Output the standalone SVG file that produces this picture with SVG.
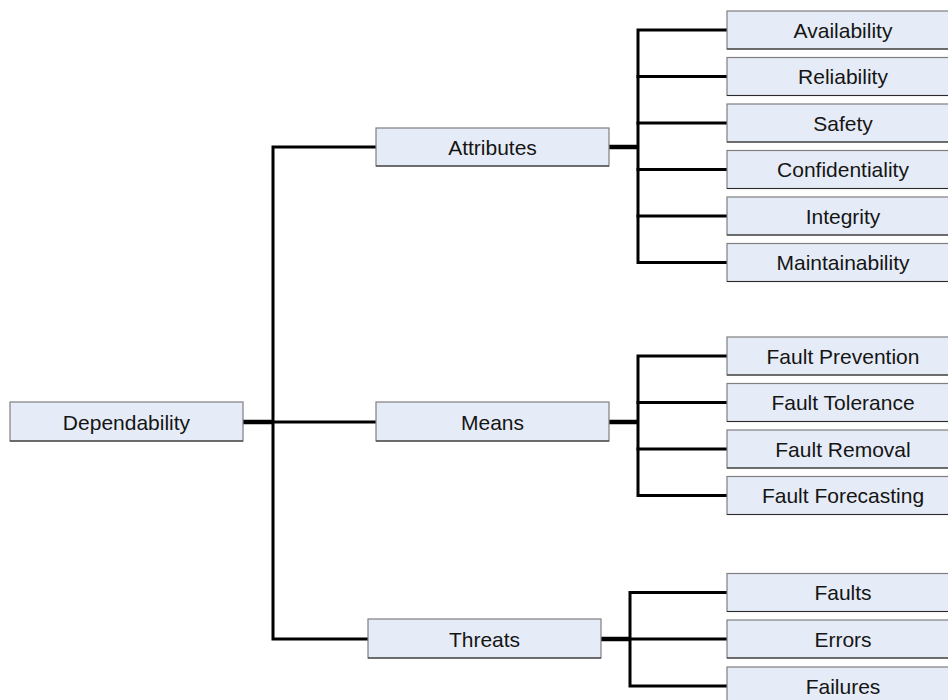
<svg xmlns="http://www.w3.org/2000/svg" width="948" height="700" viewBox="0 0 948 700">
  <style>
    .box { fill: #e6ecf7; stroke: #7f7f7f; stroke-width: 1.2; }
    .shade { stroke: #2a2a2a; stroke-width: 1.2; fill: none; }
    .lbl { font-family: "Liberation Sans", Arial, sans-serif; font-size: 21px; fill: #151515; text-anchor: middle; }
    .wire { stroke: #000; stroke-width: 3; fill: none; stroke-linecap: square; }
    .stub { stroke: #000; stroke-width: 4.5; fill: none; }
  </style>
  <rect width="948" height="700" fill="#fff"/>

  <!-- connectors -->
  <g id="connectors">
    <!-- root trunk -->
    <line class="stub" x1="243" y1="422" x2="273" y2="422"/>
    <polyline class="wire" points="376,147 273,147 273,639 368,639"/>
    <line class="wire" x1="273" y1="422" x2="376" y2="422"/>
    <!-- attributes bus -->
    <line class="stub" x1="609" y1="147" x2="638" y2="147"/>
    <polyline class="wire" points="727,30 638,30 638,262.5 727,262.5"/>
    <line class="wire" x1="638" y1="76.5" x2="727" y2="76.5"/>
    <line class="wire" x1="638" y1="123" x2="727" y2="123"/>
    <line class="wire" x1="638" y1="169.5" x2="727" y2="169.5"/>
    <line class="wire" x1="638" y1="216" x2="727" y2="216"/>
    <!-- means bus -->
    <line class="stub" x1="609" y1="422" x2="638" y2="422"/>
    <polyline class="wire" points="727,356 638,356 638,495.5 727,495.5"/>
    <line class="wire" x1="638" y1="402.5" x2="727" y2="402.5"/>
    <line class="wire" x1="638" y1="449" x2="727" y2="449"/>
    <!-- threats bus -->
    <line class="stub" x1="601" y1="639" x2="630" y2="639"/>
    <polyline class="wire" points="727,592.5 630,592.5 630,686 727,686"/>
    <line class="wire" x1="630" y1="639" x2="727" y2="639"/>
  </g>

  <!-- root -->
  <g id="dependability">
    <rect class="box" x="10" y="402" width="233" height="39"/>
    <line class="shade" x1="10" y1="441" x2="243" y2="441"/>
    <text class="lbl" x="126.5" y="429.5">Dependability</text>
  </g>

  <!-- second level -->
  <g id="attributes">
    <rect class="box" x="376" y="128" width="233" height="38"/>
    <line class="shade" x1="376" y1="166" x2="609" y2="166"/>
    <text class="lbl" x="492.5" y="154.5">Attributes</text>
  </g>
  <g id="means">
    <rect class="box" x="376" y="402" width="233" height="39"/>
    <line class="shade" x1="376" y1="441" x2="609" y2="441"/>
    <text class="lbl" x="492.5" y="429.5">Means</text>
  </g>
  <g id="threats">
    <rect class="box" x="368" y="619" width="233" height="39"/>
    <line class="shade" x1="368" y1="658" x2="601" y2="658"/>
    <text class="lbl" x="484.5" y="646.5">Threats</text>
  </g>

  <!-- attributes leaves -->
  <g id="availability">
    <rect class="box" x="727" y="11" width="233" height="38"/>
    <line class="shade" x1="727" y1="49" x2="948" y2="49"/>
    <text class="lbl" x="843" y="37.5">Availability</text>
  </g>
  <g id="reliability">
    <rect class="box" x="727" y="57.5" width="233" height="38"/>
    <line class="shade" x1="727" y1="95.5" x2="948" y2="95.5"/>
    <text class="lbl" x="843" y="84">Reliability</text>
  </g>
  <g id="safety">
    <rect class="box" x="727" y="104" width="233" height="38"/>
    <line class="shade" x1="727" y1="142" x2="948" y2="142"/>
    <text class="lbl" x="843" y="130.5">Safety</text>
  </g>
  <g id="confidentiality">
    <rect class="box" x="727" y="150.5" width="233" height="38"/>
    <line class="shade" x1="727" y1="188.5" x2="948" y2="188.5"/>
    <text class="lbl" x="843" y="177">Confidentiality</text>
  </g>
  <g id="integrity">
    <rect class="box" x="727" y="197" width="233" height="38"/>
    <line class="shade" x1="727" y1="235" x2="948" y2="235"/>
    <text class="lbl" x="843" y="223.5">Integrity</text>
  </g>
  <g id="maintainability">
    <rect class="box" x="727" y="243.5" width="233" height="38"/>
    <line class="shade" x1="727" y1="281.5" x2="948" y2="281.5"/>
    <text class="lbl" x="843" y="270">Maintainability</text>
  </g>

  <!-- means leaves -->
  <g id="fault-prevention">
    <rect class="box" x="727" y="337" width="233" height="38"/>
    <line class="shade" x1="727" y1="375" x2="948" y2="375"/>
    <text class="lbl" x="843" y="363.5">Fault Prevention</text>
  </g>
  <g id="fault-tolerance">
    <rect class="box" x="727" y="383.5" width="233" height="38"/>
    <line class="shade" x1="727" y1="421.5" x2="948" y2="421.5"/>
    <text class="lbl" x="843" y="410">Fault Tolerance</text>
  </g>
  <g id="fault-removal">
    <rect class="box" x="727" y="430" width="233" height="38"/>
    <line class="shade" x1="727" y1="468" x2="948" y2="468"/>
    <text class="lbl" x="843" y="456.5">Fault Removal</text>
  </g>
  <g id="fault-forecasting">
    <rect class="box" x="727" y="476.5" width="233" height="38"/>
    <line class="shade" x1="727" y1="514.5" x2="948" y2="514.5"/>
    <text class="lbl" x="843" y="503">Fault Forecasting</text>
  </g>

  <!-- threats leaves -->
  <g id="faults">
    <rect class="box" x="727" y="573.5" width="233" height="38"/>
    <line class="shade" x1="727" y1="611.5" x2="948" y2="611.5"/>
    <text class="lbl" x="843" y="600">Faults</text>
  </g>
  <g id="errors">
    <rect class="box" x="727" y="620" width="233" height="38"/>
    <line class="shade" x1="727" y1="658" x2="948" y2="658"/>
    <text class="lbl" x="843" y="646.5">Errors</text>
  </g>
  <g id="failures">
    <rect class="box" x="727" y="667" width="233" height="38"/>
    <text class="lbl" x="843" y="693.5">Failures</text>
  </g>
</svg>
